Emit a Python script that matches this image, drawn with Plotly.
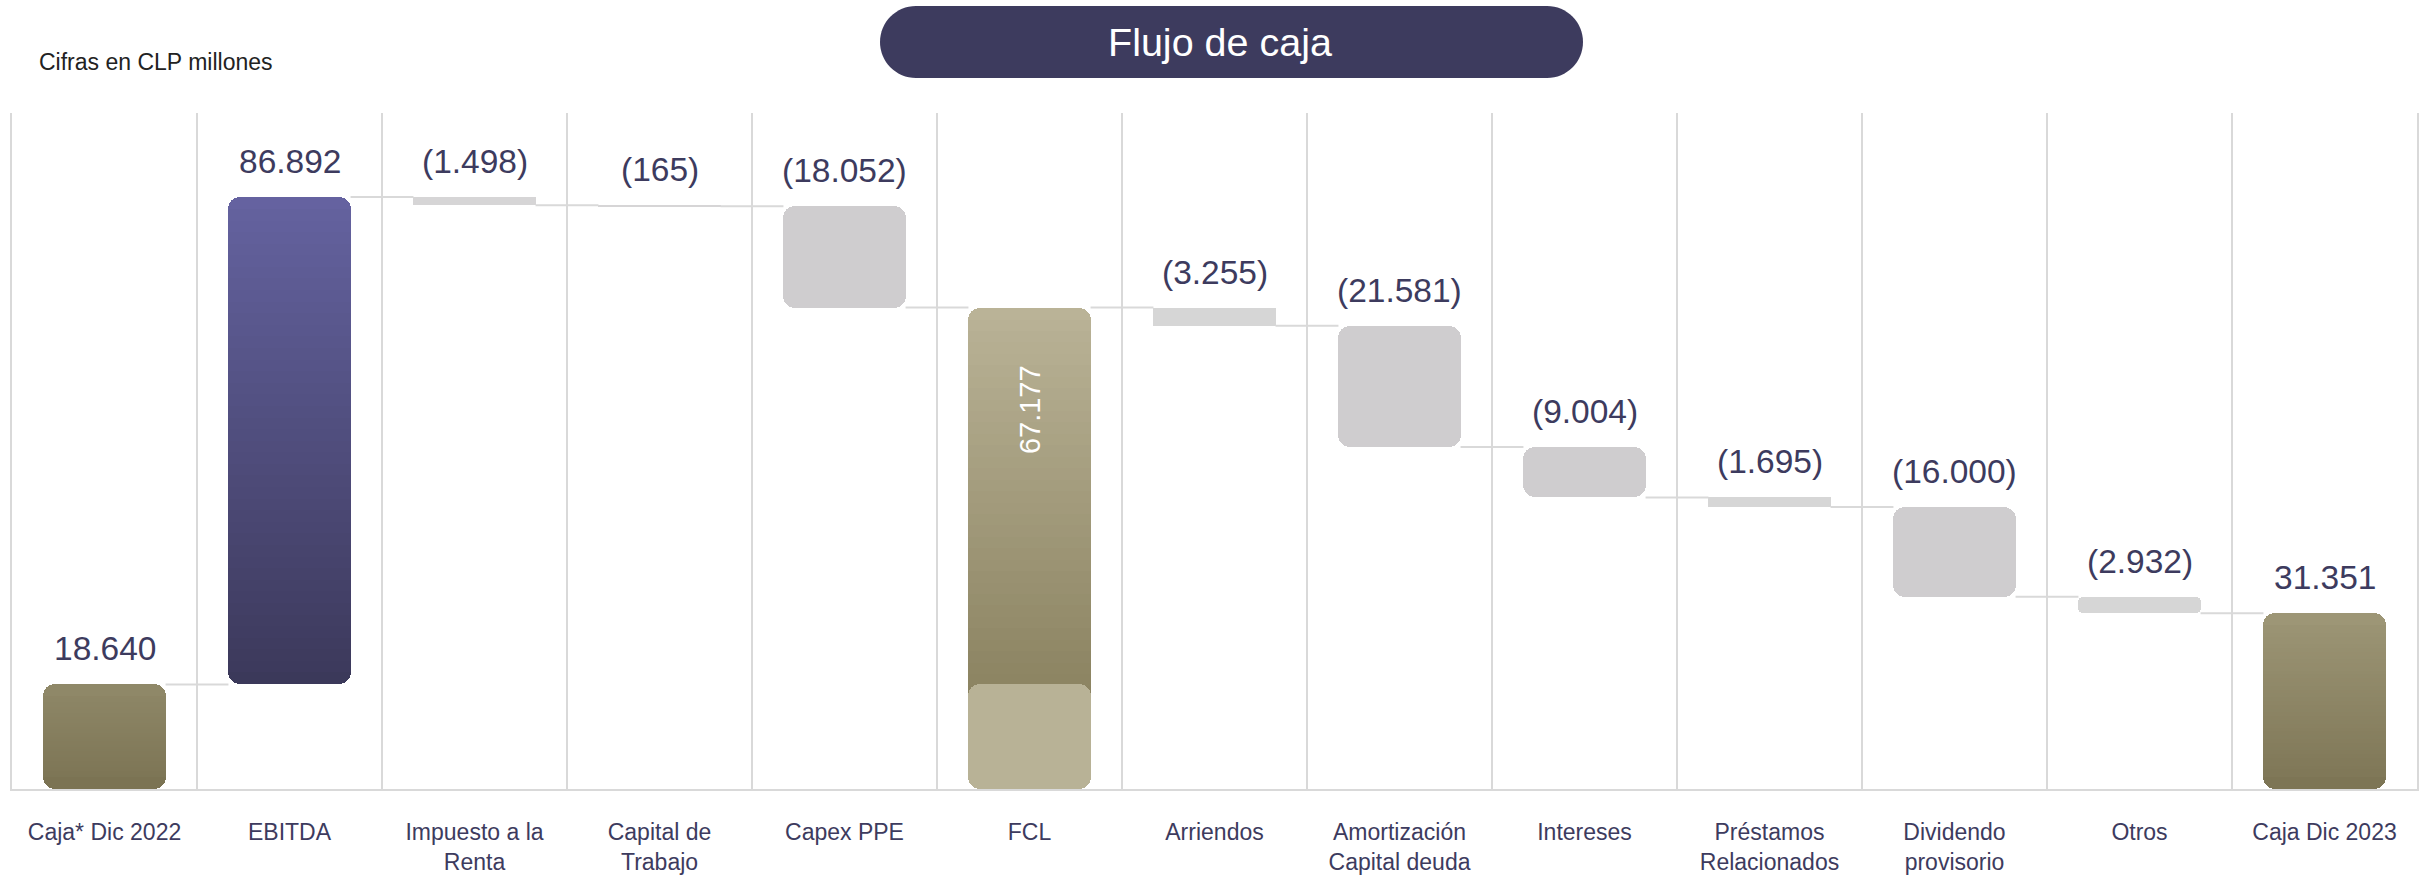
import plotly.graph_objects as go

# ---------------- data ----------------
categories = ["Caja* Dic 2022", "EBITDA", "Impuesto a la<br>Renta", "Capital de<br>Trabajo",
              "Capex PPE", "FCL", "Arriendos", "Amortización<br>Capital deuda", "Intereses",
              "Préstamos<br>Relacionados", "Dividendo<br>provisorio", "Otros", "Caja Dic 2023"]
values = [18640, 86892, -1498, -165, -18052, 67177, -3255, -21581, -9004, -1695, -16000, -2932, 31351]
measures = ["absolute", "relative", "relative", "relative", "relative", "subtotal", "relative",
            "relative", "relative", "relative", "relative", "relative", "total"]
unit_note = "Cifras en CLP millones"
title_text = "Flujo de caja"

# ---------------- layout constants ----------------
W, H = 2435, 875
ML, MR, MT, MB = 12, 18, 113, 86
PW, PH = W - ML - MR, H - MT - MB
Y_MAX = 120500
BAR_W = 0.66
R_PX = 12
r_data = R_PX * Y_MAX / PH

NAVY = "#3D3B5E"
GRID = "#D9D9D9"
FONT = "Liberation Sans, Arial, sans-serif"

# style per category
style = ["grad", "grad", "sq", "sq", "round", "fcl", "sq", "round", "round", "sq", "round", "round", "grad"]
solid_col = {2: "#D6D5D6", 3: "#D6D5D6", 4: "#CFCDCF", 6: "#D6D6D6", 7: "#CFCDCF", 8: "#CFCDCF",
             9: "#D6D6D6", 10: "#CFCDCF", 11: "#D6D6D6"}
grad_col = {0: ("#7B7353", "#8F8868"), 1: ("#3B395A", "#6562A0"),
            5: ("#8C8462", "#BAB397"), 12: ("#7D7555", "#9D9676")}
FCL_LOWER = "#B8B296"


def fmt(v):
    s = f"{abs(v):,}".replace(",", ".")
    return f"({s})" if v < 0 else s


def hex2rgb(h):
    h = h.lstrip("#")
    return tuple(int(h[i:i + 2], 16) for i in (0, 2, 4))


def mix(c0, c1, t):
    a, b = hex2rgb(c0), hex2rgb(c1)
    return "rgb(%d,%d,%d)" % tuple(round(a[k] + (b[k] - a[k]) * t) for k in range(3))


# ---------------- waterfall geometry from data ----------------
cum = 0
lows, highs, ends = [], [], []
for v, m in zip(values, measures):
    if m == "absolute" or m == "total":
        lo, hi = 0, v
        cum = v
    elif m == "subtotal":
        lo, hi = 0, cum
    else:
        start = cum
        cum += v
        lo, hi = min(start, cum), max(start, cum)
    lows.append(lo)
    highs.append(hi)
    ends.append(cum)

opening = values[0]


class Layer:
    def __init__(self):
        self.x, self.base, self.y, self.c = [], [], [], []

    def add(self, x, base, size, color):
        self.x.append(x)
        self.base.append(base)
        self.y.append(size)
        self.c.append(color)


top_parts = Layer()      # rounded top, normal axis (y)
square = Layer()         # square small bars (y)
bottom_parts = Layer()   # rounded bottom, reversed axis (y2)
slices = Layer()         # gradient slices (y2)
fcl_low_bottom = Layer() # (y2)
fcl_low_top = Layer()    # (y3)


def add_rounded(i, lo, hi, ctop, cbot, top_layer, bot_layer):
    c = min(r_data, (hi - lo) / 3)
    top_layer.add(i, lo + c, hi - lo - c, ctop)
    # reversed axis: value v -> Y_MAX - v ; bar grows downward in pixels
    bot_layer.add(i, Y_MAX - (hi - c), hi - c - lo, cbot)


N = 40
for i, s in enumerate(style):
    lo, hi = lows[i], highs[i]
    if s in ("grad", "fcl"):
        cb, ct = grad_col[i]
        add_rounded(i, lo, hi, ct, cb, top_parts, bottom_parts)
        g_lo = opening if s == "fcl" else lo
        s_lo, s_hi = lo + r_data, hi - r_data
        dh = (s_hi - s_lo) / N
        for j in range(N):
            b = s_lo + j * dh
            hgt = dh * 1.6 if j < N - 1 else dh
            t = min(1, max(0, (b + dh / 2 - g_lo) / (hi - g_lo)))
            slices.add(i, Y_MAX - (b + hgt), hgt, mix(cb, ct, t))
        if s == "fcl":
            add_rounded(i, 0, opening, FCL_LOWER, FCL_LOWER, fcl_low_top, fcl_low_bottom)
    elif s == "round":
        add_rounded(i, lo, hi, solid_col[i], solid_col[i], top_parts, bottom_parts)
    else:
        square.add(i, lo, hi - lo, solid_col[i])

fig = go.Figure()
common = dict(width=BAR_W, hoverinfo="skip", showlegend=False)


def bar(layer, yaxis, radius):
    mk = dict(color=layer.c, line_width=0)
    if radius:
        mk["cornerradius"] = radius
    return go.Bar(x=layer.x, base=layer.base, y=layer.y, yaxis=yaxis, marker=mk, **common)


fig.add_trace(bar(top_parts, "y", R_PX))
fig.add_trace(bar(square, "y", 0))
fig.add_trace(bar(bottom_parts, "y2", R_PX))
fig.add_trace(bar(slices, "y2", 0))
fig.add_trace(bar(fcl_low_bottom, "y2", R_PX))
fig.add_trace(bar(fcl_low_top, "y3", R_PX))

# connectors
cx, cy = [], []
for i in range(len(categories) - 1):
    cx += [i + BAR_W / 2, i + 1 - BAR_W / 2, None]
    cy += [ends[i], ends[i], None]
fig.add_trace(go.Scatter(x=cx, y=cy, mode="lines", line=dict(color=GRID, width=2),
                         hoverinfo="skip", showlegend=False))

# value labels
annotations = []
for i, v in enumerate(values):
    if style[i] == "fcl":
        annotations.append(dict(x=i, y=highs[i], xref="x", yref="y", text=fmt(v), showarrow=False,
                                textangle=-90, xanchor="center", yanchor="middle", yshift=-102,
                                font=dict(family=FONT, size=29, color="white")))
    else:
        annotations.append(dict(x=i, y=highs[i], xref="x", yref="y", text=fmt(v), showarrow=False,
                                xanchor="center", yanchor="bottom", yshift=15,
                                font=dict(family=FONT, size=33.5, color=NAVY)))


def px2paper_x(px):
    return (px - ML) / PW


def px2paper_y(py):
    return (H - MB - py) / PH


annotations.append(dict(x=px2paper_x(37), y=px2paper_y(62), xref="paper", yref="paper",
                        text=unit_note, showarrow=False, xanchor="left", yanchor="middle",
                        font=dict(family=FONT, size=23, color="#222222")))
annotations.append(dict(x=px2paper_x(1220), y=px2paper_y(42), xref="paper", yref="paper",
                        text=title_text, showarrow=False, xanchor="center", yanchor="middle",
                        font=dict(family=FONT, size=39.5, color="white")))

# title pill
pw, ph = 703, 72
rr = ph / 2
k = 0.5523 * rr
hx = pw / 2 - rr
path = (f"M {-hx},{-rr} L {hx},{-rr} "
        f"C {hx + k},{-rr} {pw / 2},{-k} {pw / 2},0 "
        f"C {pw / 2},{k} {hx + k},{rr} {hx},{rr} "
        f"L {-hx},{rr} "
        f"C {-hx - k},{rr} {-pw / 2},{k} {-pw / 2},0 "
        f"C {-pw / 2},{-k} {-hx - k},{-rr} {-hx},{-rr} Z")
shapes = [dict(type="path", path=path, xref="paper", yref="paper", xsizemode="pixel", ysizemode="pixel",
               xanchor=px2paper_x(1231.5), yanchor=px2paper_y(42), fillcolor=NAVY,
               line=dict(width=0), layer="above")]

hidden_y = dict(showgrid=False, zeroline=False, showticklabels=False, showline=False, ticks="",
                overlaying="y", visible=False, fixedrange=True)

fig.update_layout(
    width=W, height=H,
    margin=dict(l=ML, r=MR, t=MT, b=MB, pad=0),
    paper_bgcolor="white", plot_bgcolor="white",
    barmode="overlay", bargap=0,
    showlegend=False,
    annotations=annotations,
    shapes=shapes,
    xaxis=dict(range=[-0.5, len(categories) - 0.5], tickmode="array",
               tickvals=list(range(len(categories))), ticktext=categories,
               showgrid=False, zeroline=False, showline=True, linecolor=GRID, linewidth=2,
               ticks="", ticklabelstandoff=21, automargin=False, fixedrange=True,
               tickfont=dict(family=FONT, size=23, color=NAVY),
               minor=dict(tickmode="array", tickvals=[i + 0.5 for i in range(len(categories) - 1)],
                          showgrid=True, gridcolor=GRID, gridwidth=2, ticks="")),
    yaxis=dict(range=[0, Y_MAX], showgrid=False, zeroline=False, showticklabels=False,
               showline=True, mirror=True, linecolor=GRID, linewidth=2, ticks="",
               automargin=False, fixedrange=True),
    yaxis2=dict(range=[Y_MAX, 0], **hidden_y),
    yaxis3=dict(range=[0, Y_MAX], **hidden_y),
    font=dict(family=FONT),
)

fig.write_html("out.html", config={"displayModeBar": False},
               post_script="document.body.style.margin='0';")
